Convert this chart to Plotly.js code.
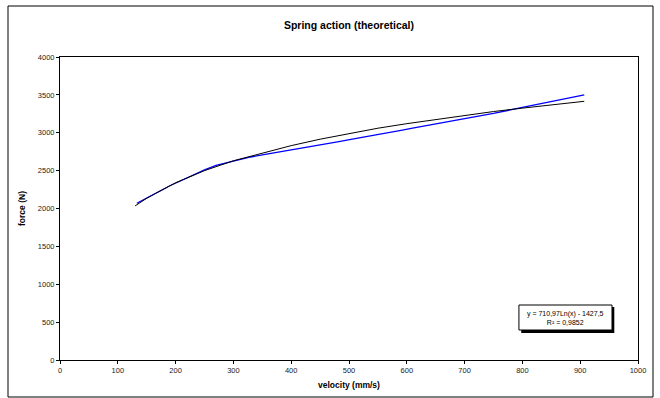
<!DOCTYPE html>
<html>
<head>
<meta charset="utf-8">
<script src="https://cdn.plot.ly/plotly-3.0.1.min.js"></script>
<style>
  html, body { margin: 0; padding: 0; background: #fff; }
  #chart { width: 660px; height: 398px; }
</style>
</head>
<body>
<div id="chart"></div>
<script>
// Measured series (blue)
const velocityData = [133, 150, 170, 190, 210, 230, 240, 250, 270, 300, 330, 360, 400, 440, 480, 520, 560, 590, 610, 650, 700, 750, 800, 850, 907];
const forceData    = [2070, 2140, 2215, 2300, 2370, 2440, 2480, 2510, 2570, 2630, 2680, 2720, 2770, 2830, 2880, 2935, 2985, 3030, 3060, 3115, 3185, 3255, 3335, 3415, 3500];

// Logarithmic trendline (black)
const velocityTrend = [130, 150, 200, 250, 300, 350, 400, 450, 500, 550, 600, 650, 700, 750, 800, 850, 907];
const forceTrend    = [2035, 2135, 2340, 2500, 2630, 2735, 2830, 2915, 2990, 3060, 3120, 3175, 3230, 3280, 3325, 3370, 3415];

const xTicks = [0, 100, 200, 300, 400, 500, 600, 700, 800, 900, 1000];
const yTicks = [0, 500, 1000, 1500, 2000, 2500, 3000, 3500, 4000];

const chartTitle = "Spring action (theoretical)";
const xTitle = "velocity (mm/s)";
const yTitle = "force (N)";
const trendLabel = "y = 710,97Ln(x) - 1427,5<br>R² = 0,9852";

const FONT = "Liberation Sans, Arial, sans-serif";

const traces = [
  {
    x: velocityData, y: forceData, type: "scatter", mode: "lines",
    line: { color: "#0000ff", width: 1.3 }, hoverinfo: "skip"
  },
  {
    x: velocityTrend, y: forceTrend, type: "scatter", mode: "lines",
    line: { color: "#000000", width: 1 }, hoverinfo: "skip"
  }
];

const axisCommon = {
  showgrid: false, zeroline: false, showline: true, linecolor: "#000", linewidth: 1,
  mirror: true, ticks: "outside", ticklen: 3, tickcolor: "#000", tickwidth: 1,
  tickfont: { family: FONT, size: 7.5, color: "#222" }
};

const layout = {
  width: 660, height: 398,
  margin: { l: 60, r: 22, t: 57, b: 38, pad: 0 },
  paper_bgcolor: "#fff", plot_bgcolor: "#fff",
  showlegend: false,
  title: {
    text: "<b>" + chartTitle + "</b>",
    font: { family: FONT, size: 10.5, color: "#000" },
    x: 0.5, xanchor: "center", y: 1 - 25 / 398, yanchor: "middle", xref: "paper"
  },
  xaxis: Object.assign({}, axisCommon, {
    range: [0, 1000], tickvals: xTicks, ticktext: xTicks.map(String),
    title: { text: "<b>" + xTitle + "</b>", font: { family: FONT, size: 8.5, color: "#000" }, standoff: 8 }
  }),
  yaxis: Object.assign({}, axisCommon, {
    range: [0, 4000], tickvals: yTicks, ticktext: yTicks.map(String),
    title: { text: "<b>" + yTitle + "</b>", font: { family: FONT, size: 8.5, color: "#000" }, standoff: 10 }
  }),
  shapes: [
    // outer chart border
    { type: "rect", xref: "paper", yref: "paper",
      x0: (8 - 60) / 578, x1: (653 - 60) / 578, y0: (360 - 397) / 303, y1: (360 - 6) / 303,
      line: { color: "#000", width: 1 }, fillcolor: "rgba(0,0,0,0)", layer: "below" },
    // trendline label shadow
    { type: "rect", xref: "x", yref: "y", x0: 798, x1: 959, y0: 355, y1: 700,
      line: { width: 0 }, fillcolor: "#000", layer: "above" },
    // trendline label box
    { type: "rect", xref: "x", yref: "y", x0: 794, x1: 955, y0: 396, y1: 726,
      line: { color: "#000", width: 1 }, fillcolor: "#fff", layer: "above" }
  ],
  annotations: [
    { xref: "x", yref: "y", x: 874.5, y: 561, text: trendLabel, showarrow: false,
      xanchor: "center", yanchor: "middle", align: "center",
      font: { family: FONT, size: 7, color: "#000" } }
  ]
};

Plotly.newPlot("chart", traces, layout, { displayModeBar: false, staticPlot: true });
</script>
</body>
</html>
